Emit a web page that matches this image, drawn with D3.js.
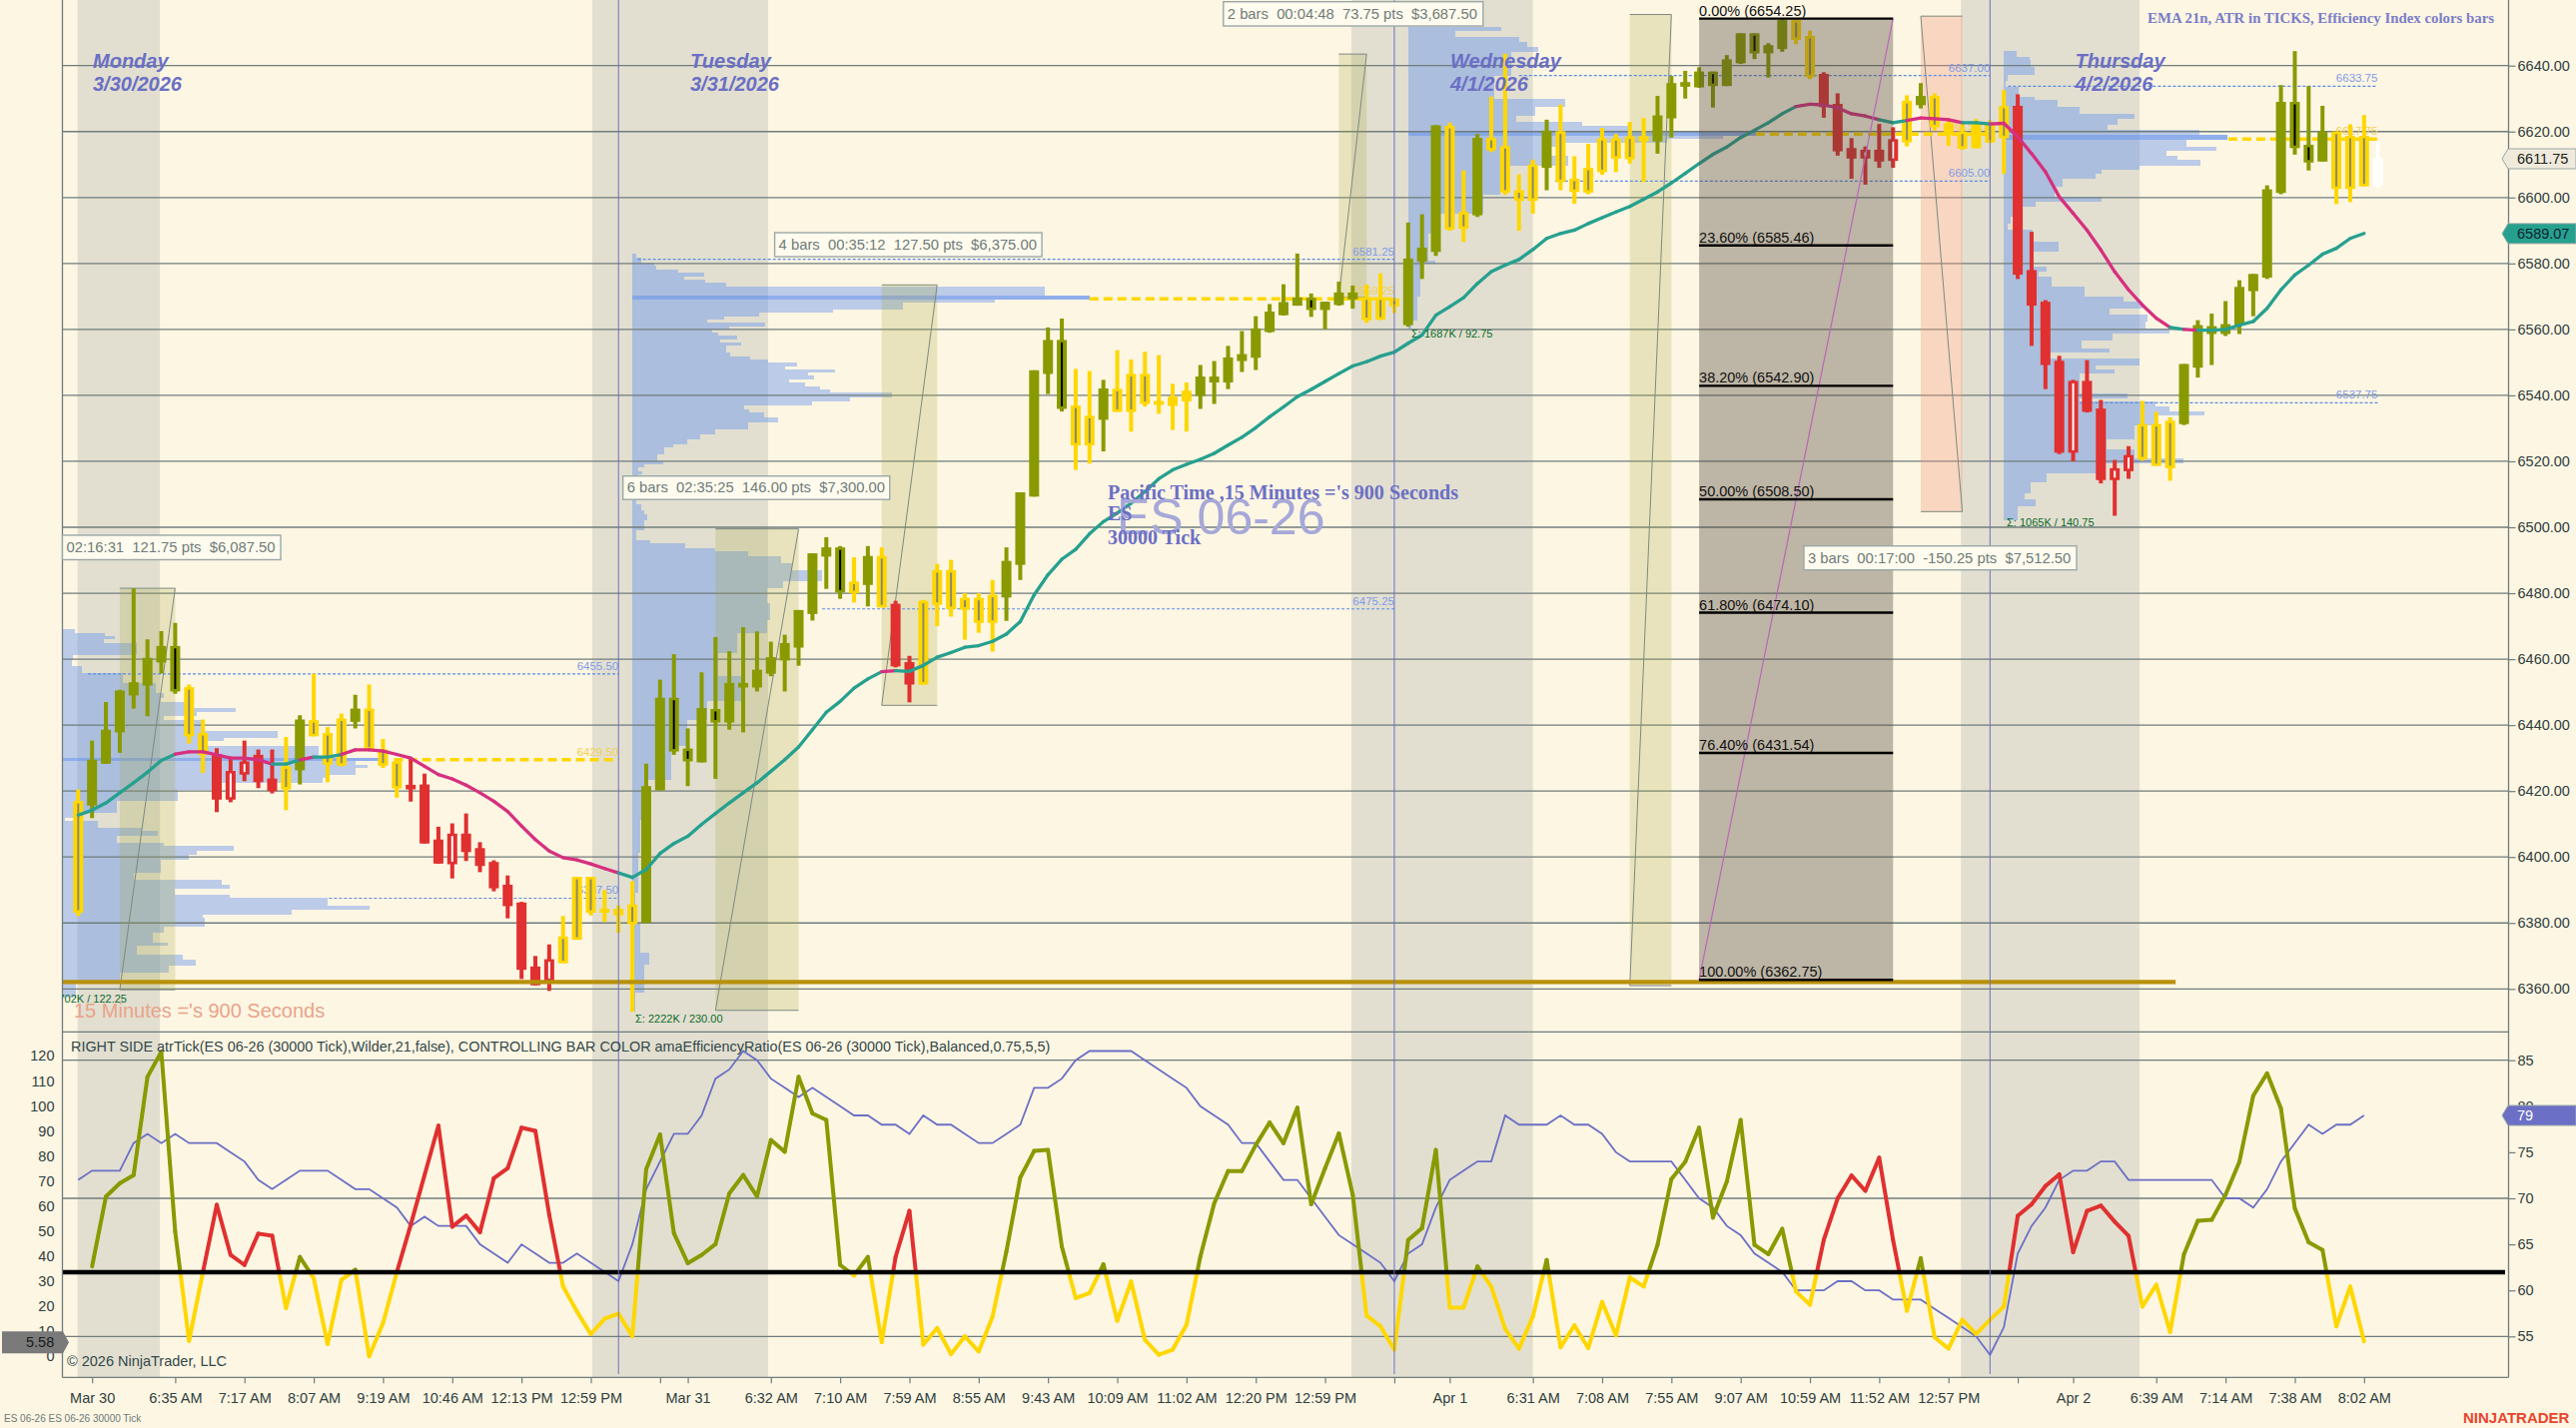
<!DOCTYPE html>
<html>
<head>
<meta charset="utf-8">
<title>ES 06-26 30000 Tick</title>
<script src="https://d3js.org/d3.v7.min.js"></script>
<style>
  html, body { margin: 0; padding: 0; background: #fdf6e3; }
  svg { display: block; }
  text { font-family: "Liberation Sans", Arial, sans-serif; white-space: pre; }
  .tick text { font-size: 14.5px; fill: #2f4040; }
  .serif { font-family: "Liberation Serif", serif; font-weight: bold; }
</style>
</head>
<body>
<svg id="chart" width="2579" height="1430"></svg>
<script>
// bars
var barOpen = [6417,6415.6,6428.3,6437.8,6449,6452,6459,6464,6451.5,6437.6,
  6417.4,6426.1,6429,6422.7,6420,6427.5,6426.3,6441.5,6437.6,6442,
  6441,6445,6432.6,6429,6420.5,6404.1,6398,6407.1,6401.5,6397.3,
  6390.5,6385.1,6365.8,6361.1,6369,6375.9,6394,6394,6384.3,6382.3,
  6385.6,6380,6420.2,6448.3,6432.9,6428.7,6444.9,6440.8,6451.4,6451.4,
  6455.6,6459.6,6463.5,6473.7,6491.1,6493.9,6483.5,6482.5,6491.3,6457.8,
  6452.3,6477.7,6487,6487,6478.6,6478.6,6479.5,6478.7,6488.6,6509.3,
  6546.5,6556.8,6536.9,6533.8,6532.6,6542,6546.5,6546.5,6537.1,6536.8,
  6538.2,6539.8,6543.9,6543.9,6550.4,6551.4,6559.2,6564.3,6567.2,6569.6,
  6565.9,6567.4,6569.1,6569.7,6569.7,6569.4,6561.3,6580.5,6583.5,6621.7,
  6595.6,6594.6,6618.1,6615.6,6602.2,6610,6609,6620.1,6605.7,6609,
  6618,6618,6618.5,6617,6617,6624,6633.6,6633.4,6638.2,6633.8,
  6640.7,6649.8,6643.7,6645,6653.8,6649,6627.4,6614,6611.8,6614.5,
  6610.9,6617.7,6629.3,6628,6630.8,6619,6620,6615,6622.5,6627.8,
  6576.6,6567.2,6549.2,6522.6,6544.4,6535,6514.3,6517.9,6521.9,6531.3,
  6531.3,6532.3,6531.3,6548.4,6558.6,6558.6,6561.3,6571.6,6575.7,6601.4,
  6629,6616,6610.9,6620,6618.7,6618.7,6603.4];
var barHigh = [6420.5,6435.3,6447,6450.7,6481.5,6466,6468.5,6471,6452.3,6441.7,
  6433,6430,6435.3,6432.6,6432.6,6436.4,6443,6455.6,6439.4,6443.5,
  6449.2,6452.3,6435.8,6429.3,6430,6425.3,6409.2,6410.2,6413.2,6404.5,
  6399,6394.4,6386.4,6370,6373.5,6382.1,6394,6394,6390,6385.3,
  6392.7,6428.3,6453.8,6461.5,6439,6456,6466.7,6462.4,6469.7,6468.4,
  6465.3,6467.4,6474.9,6492.1,6497,6494.3,6490.9,6494.3,6493.9,6477.7,
  6461,6478,6488.9,6490.1,6480,6480,6484,6493.9,6510.6,6547.6,
  6560.6,6563.3,6548,6547.4,6544.7,6553.7,6550.9,6553.2,6552.2,6543.5,
  6543.9,6549.2,6550.4,6555,6559.5,6564,6567.7,6573.7,6583,6570.9,
  6568.4,6574.5,6573.3,6573.6,6577,6569.6,6592.4,6594.9,6621.9,6622.7,
  6608.2,6619.3,6630.6,6643.6,6607,6611.5,6623.6,6628.2,6612.5,6616.3,
  6621.1,6619.3,6622.9,6624.1,6630.8,6636.9,6638.4,6639.5,6638.2,6643.2,
  6649.8,6649.8,6646.8,6654.25,6654,6650.6,6638,6631.6,6618,6615.5,
  6622.3,6621.3,6631,6634.7,6631.6,6623.4,6622.8,6623.8,6623.4,6632.6,
  6631.3,6589.6,6568.9,6552,6544.7,6550.7,6538.6,6520.4,6524.6,6538.3,
  6535,6533.3,6549.5,6562.8,6564.8,6568.6,6574.9,6576.8,6603.7,6634.1,
  6644.4,6633.8,6627.8,6620,6622.2,6625,6617.2];
var barLow = [6382.1,6411.8,6428.3,6431.6,6445,6442.7,6455.6,6449.5,6434.4,6425.5,
  6413.6,6416.6,6423,6420.9,6419.3,6414.2,6422,6436.6,6422.7,6427.5,
  6439,6432.6,6427,6418,6416.8,6404.1,6398,6393.5,6398.8,6395.4,
  6389.6,6381.4,6363,6361.1,6359.4,6367.8,6374.9,6382.3,6380.3,6377,
  6353.1,6380,6420.2,6431,6421.5,6428.7,6423.7,6438.6,6437.8,6450.2,
  6454.8,6450.2,6458,6471.7,6481.3,6478.3,6477.2,6476,6475.7,6457.5,
  6446.9,6452.3,6470,6472.9,6465.9,6468,6462.3,6471.6,6484,6509.3,
  6540.4,6535.1,6517.4,6519.3,6523,6535,6529,6536.6,6534.4,6529.5,
  6529,6535.9,6537.4,6541.9,6547.1,6547.7,6559,6564.2,6567.2,6563.8,
  6560,6567.2,6566.3,6562,6562.8,6565,6560.8,6575.3,6582.3,6589.9,
  6586.5,6594.1,6613.8,6600.8,6589.9,6595.1,6602.2,6602.2,6598.1,6601,
  6606.9,6607.7,6610.3,6604.7,6613.3,6618.2,6630,6633.3,6627.3,6633.8,
  6640.5,6642,6636.4,6644.2,6646.5,6635.9,6624.2,6612.7,6605.7,6603.9,
  6609,6609,6615.5,6627,6620.3,6615.7,6614.5,6614.8,6616.5,6607.2,
  6575.3,6555,6541.9,6522.2,6520,6534.8,6513.3,6503.5,6514.7,6520.2,
  6518.6,6514.1,6531,6545.4,6549.2,6558,6558.6,6564,6575.3,6601,
  6613,6608.2,6610.9,6598,6598.6,6603.4,6602.9];
var barClose = [6383.1,6429.5,6438.6,6450.5,6453,6460.4,6464,6450.2,6436.6,6431,
  6431.2,6417.4,6425,6431,6423.8,6420.5,6441.7,6436.6,6428,6427.7,
  6445,6432.6,6427.7,6420.8,6421.9,6422,6405.3,6397.8,6407.1,6402.7,
  6398.5,6391.6,6386.2,6366.8,6362.4,6367.8,6374.9,6383.1,6383.1,6384.3,
  6379.6,6421.5,6448.3,6432,6429,6445.2,6440.8,6452.8,6452.8,6456.8,
  6460.6,6464.9,6474.9,6492.1,6493.9,6480.2,6480,6491.3,6475.7,6476.8,
  6459.1,6452.3,6476.5,6475.2,6475,6471,6471,6489.8,6510.6,6547.6,
  6556.8,6535.9,6524.8,6524.8,6542.1,6535,6535,6537.4,6538.3,6539.6,
  6541.4,6545.7,6545.7,6551.5,6552.5,6560.3,6565.4,6568.3,6569.7,6565.9,
  6568.4,6571.2,6571.2,6562.8,6563,6566.9,6581.5,6584.8,6621.9,6590.3,
  6590.5,6618.1,6614.3,6601.5,6599,6599,6620.3,6604.7,6601.7,6601.5,
  6607.7,6611.8,6611.6,6618.6,6624.9,6634.7,6635,6638.2,6633.8,6641.9,
  6649.8,6643.7,6646.2,6653.8,6647.8,6636.5,6637.5,6628.4,6615,6611.8,
  6614.5,6611.1,6616.7,6630.8,6621.3,6622.5,6614.8,6622.5,6616.7,6618,
  6627.8,6578,6568.4,6550.5,6522.6,6544.4,6536,6514.3,6517,6520.6,
  6518.6,6517.9,6549.5,6561.3,6561,6561.6,6572.9,6576.8,6602.5,6629,
  6615,6610.6,6620,6602.6,6602.6,6603.4,6612];
// efficiency colour of each bar: G gold, O olive, R red, W last unfinished bar
var barColors = ("GOOOOOOOGG"+"RRRRRGOGGG"+"OGGGRRRRRR"+"RRRRRGGGGG"+"GOOOOOOOOO"+
  "OOOOOOGOGR"+"RGGGGGGOOO"+"OOGGOGGGGG"+"GOOOOOOOOO"+"OOOGGGOOOG"+
  "GOGGGGOGGG"+"GGGGOOOOOO"+"OOOOGGRRRR"+"RRGOGGGGGG"+"RRRRRRRRRG"+
  "GGOOOOOOOO"+"OOOGGGW").split("");

// EMA 21, one value per bar
var emaValues = [6412.7,6414.2,6416.4,6419.5,6422.5,6425.7,6429.3,6431.2,6431.9,6431.9,
  6431,6430,6430,6429.5,6428.2,6428.2,6429.5,6430.3,6430.3,6431.1,
  6432.5,6432.5,6432.1,6431.1,6430,6427.5,6425,6423.7,6421.8,6419.5,
  6416.9,6413.8,6409.4,6405.3,6401.8,6399.8,6399.1,6397.9,6396.5,6395.2,
  6393.8,6396.2,6401.1,6404.1,6406.3,6409.9,6413.2,6416.4,6419.5,6422.5,
  6426,6429.5,6433.4,6438.6,6443.9,6447.2,6451.2,6454,6456.2,6456.5,
  6456.3,6458.1,6460.6,6462,6463.6,6464.1,6465.4,6467.6,6471.4,6479.5,
  6485.6,6490.3,6493.3,6498,6501.7,6504.3,6507.3,6510.8,6514.7,6517.4,
  6519.1,6520.6,6522.4,6524.9,6527.3,6530.2,6533.5,6536.5,6539.6,6541.8,
  6544.2,6546.6,6548.9,6550.2,6551.9,6553.1,6555.8,6558.3,6564.3,6566.9,
  6569.6,6573.9,6577.5,6579.5,6581.2,6584.2,6587.6,6589.1,6590.1,6592.1,
  6593.9,6595.6,6597.3,6599.5,6601.7,6604.4,6607.3,6610.3,6613.1,6615.3,
  6618.2,6620.4,6622.7,6625.4,6627.6,6628.3,6628.1,6627.2,6625.4,6624.7,
  6623.6,6622.7,6623.4,6624.1,6623.9,6623.6,6622.7,6622.7,6622.3,6622.5,
  6618.4,6613.3,6607.8,6600.2,6595.2,6590.1,6584.1,6577.5,6572,6567.4,
  6563.4,6560.6,6560,6559.8,6559.8,6560,6561.3,6562.4,6566.4,6572,
  6576.5,6579.5,6582.8,6584.6,6587.6,6589.1];
var emaFalling = [[7,14],[16,17],[19,39],[58,59],[124,130],[132,136],[138,151],[152,153]];

// efficiency ratio (left scale), first bar has no value
var effValues = [null,35.9,63.8,69.1,72.4,111.6,121.6,49.8,6.2,33.6,
  60.5,40.5,36.5,49,48.2,19.3,39.7,31.2,4.9,30.6,
  34.6,0,13.3,33.6,52.5,72.4,92.1,51.8,56.2,49.6,
  71.1,75.1,91.3,90,56.5,27.9,17.9,8.9,15,17.1,
  8,74.8,88.6,49.2,37.2,40.5,44.8,65.1,72.4,63.8,
  86.4,81.7,111.6,97,94.4,36.5,32.3,39.7,5.7,39.7,
  58.1,4.7,11.3,0.9,8,2,15.9,41.9,71.4,82,
  82.4,43.9,23.3,25.3,36.8,14.2,29.9,6.6,0.7,2.7,
  12.6,39.9,61.1,74,74,84.4,93.4,85.1,99.3,60.7,
  75.1,89,64.5,16.3,12,2.7,46.5,51.2,82.4,19.5,
  19.5,35.9,27.9,11,3.1,15.9,38.5,3.6,12.4,3.3,
  21.7,8.4,31.5,27.9,44.5,70.8,77.7,91.3,55.4,69.8,
  94.4,44.5,40.8,50.9,25.9,20.6,46.5,63.1,72.2,66.1,
  79.3,46.5,18.2,39.2,7.6,3.1,14.6,8.9,14.6,19.9,
  56.1,60.7,68,72.7,41.6,58.1,60.2,53.8,48.1,19.9,
  28.6,9.7,40.8,54.1,54.5,64.5,77.7,104.1,113,99,
  59.1,45.6,42.5,12,27.9,6];
var effThreshold = 33.6;
var effRedRuns = [[10,14],[24,34],[59,60],[126,131],[140,148]];

// ATR in ticks (right scale)
var atrValues = [72,73,73,73,76,77,76,77,76,76,
  76,75,74,72,71,72,73,73,73,72,
  71,71,70,69,67,68,67,67,67,65,
  64,63,65,64,63,63,64,63,62,61,
  65,71,74,77,77,79,83,84,86,85,
  83,82,81,82,81,80,79,79,78,78,
  77,79,78,78,77,76,76,77,78,82,
  82,83,85,86,86,86,86,85,84,83,
  82,80,79,78,76,76,74,72,72,70,
  68,66,65,64,63,61,64,65,69,72,
  73,74,74,79,78,78,78,79,78,78,
  77,75,74,74,74,74,72,70,69,67,
  66,64,63,62,60,60,60,61,61,60,
  60,59,59,59,58,57,56,55,53,56,
  64,67,69,72,73,73,74,74,72,72,
  72,72,72,72,72,70,70,69,71,74,
  76,78,77,78,78,79];

// axes
var priceTicks = d3.range(6360, 6641, 20);
var effTicks = d3.range(0, 121, 10);
var atrTicks = [55,60,65,70,75,80,85];
var timeTickBars = [1,7,12,17,22,27,32,37,42,44,50,55,60,65,70,75,80,85,90,95,99,105,110,115,120,125,130,135,140,144,150,155,160,165];
var timeTickLabels = ["Mar 30","6:35 AM","7:17 AM","8:07 AM","9:19 AM","10:46 AM","12:13 PM","12:59 PM","","Mar 31","6:32 AM","7:10 AM","7:59 AM","8:55 AM","9:43 AM","10:09 AM","11:02 AM","12:20 PM","12:59 PM","","Apr 1","6:31 AM","7:08 AM","7:55 AM","9:07 AM","10:59 AM","11:52 AM","12:57 PM","","Apr 2","6:39 AM","7:14 AM","7:38 AM","8:02 AM"];

// session bands and day lines, in bars
var bandFrom = [-0.05,37.1,91.9,135.9];
var bandTo = [5.9,49.8,105,148.8];
var dayLines = [39,95,138];

// volume profiles: top price of each row, then its volume
var profileStart = [-1.14,40,96,139];
var profilePrices = [
  [6469.2,6467.9,6466.9,6466.1,6464.9,6461.3,6459.8,6457.8,6455.8,6452.8,6449.7,6448.2,6447,6445.2,6444,6442.7,6441.7,6438.1,6436.1,6435.1,6433.6,6430.1,6429,6428,6427,6425,6424,6422.5,6420.3,6416.9,6413.4,6411.9,6410.9,6408.9,6407.9,6406.3,6404.3,6403.3,6402,6400.8,6399.1,6395.2,6393.2,6391.7,6390.4,6388.7,6387.7,6385.1,6384.1,6382.6,6381.6,6378.9,6377,6374.1,6373,6370.5,6369,6367.2,6365,6362.4,6357.4],
  [6583,6581.7,6580.2,6579.2,6578.1,6577.1,6576.1,6575.1,6574.1,6573.1,6570.3,6569.1,6568.1,6566,6565.2,6564,6563,6562,6561,6560,6559,6558,6557,6556,6555,6552.9,6551.9,6550.9,6549.9,6548.9,6547.9,6546.9,6545.9,6544.9,6543.8,6542.8,6541.8,6540.8,6539.3,6538.3,6537,6535.8,6534.8,6533.2,6531.9,6529.7,6528.2,6526.7,6525.2,6524.2,6522.1,6520.1,6519.1,6518.1,6517,6516,6508.5,6507,6505,6503.9,6502.2,6499.2,6496.1,6495.1,6493.6,6492.6,6491.1,6489.1,6487,6483.5,6481.5,6477,6471.9,6467.9,6461.8,6454.8,6447.2,6441.7,6433.6,6423.5,6411.4,6401.3,6389.2,6380.1,6371,6367.5,6359,6353.1],
  [6651.8,6650.6,6648.6,6647.1,6645.6,6644.1,6641,6637,6629.9,6627.4,6624.9,6622.9,6621.6,6620.3,6618.8,6617.8,6616.5,6615.3,6612.8,6609.7,6607.2,6603.2,6600.7,6595.1,6589,6581,6580,6576,6569.9,6562.8,6560],
  [6644.6,6642.6,6641.6,6639.6,6637.3,6635.5,6633.5,6630.5,6629.5,6627.4,6625.4,6623.9,6621.9,6620.4,6618.9,6617.4,6615.3,6614.3,6612.8,6611.5,6609.5,6608.3,6607.3,6605.8,6603.2,6600.2,6598.7,6597.2,6594.1,6592.1,6590.1,6589.6,6586.6,6583.6,6579,6577.5,6576,6573,6570,6568.4,6566.4,6564.4,6562.4,6560.3,6558.8,6556.6,6554.3,6553,6551.3,6549.2,6547.7,6546.5,6540.6,6539.1,6538.1,6536.6,6535.1,6534,6531,6526.5,6523.5,6521,6519.5,6516.5,6513.5,6510.4,6508.4,6506.4,6502]
];
var profileVolumes = [
  [13,43,53,42,75,11,10,20,61,94,102,99,124,174,135,102,140,216,162,146,257,319,294,306,294,267,261,157,116,55,20,3,36,80,96,55,102,172,135,127,99,72,160,168,113,168,266,308,230,141,143,102,91,106,75,121,134,107,58,14],
  [4,9,22,24,46,72,52,73,94,413,458,363,271,201,127,92,75,133,97,80,86,105,88,109,94,98,118,136,165,153,203,176,182,157,173,188,198,260,218,180,112,117,132,146,116,83,68,55,41,32,25,31,12,6,10,6,4,9,12,15,12,4,18,53,83,116,149,160,190,151,135,138,135,105,86,113,75,55,39,12,8,6,3,8,17,12,3],
  [93,47,111,119,130,103,103,86,157,127,108,174,220,348,315,259,152,138,160,97,94,92,75,31,20,27,15,12,9,3],
  [13,26,27,31,4,2,15,31,54,76,131,114,104,196,224,183,213,163,174,197,136,98,92,59,51,98,32,15,7,4,29,26,55,26,43,35,48,81,120,139,106,144,142,166,109,78,106,43,136,92,111,76,124,76,152,166,201,152,131,103,131,180,98,43,27,21,32,14]
];

// naked levels drawn from each profile: price, first bar, last bar
var vaPrices = [6455.5,6387.5,6581.25,6475.25,6637,6605,6633.75,6537.75];
var vaFromBar = [0.7,18.1,40.4,53.7,104,106.6,139.3,144.5];
var vaToBar = [39,39,95,95,138,138,165.98,165.98];
var pocPrices = [6429.5,6569.25,6619.25,6617.75];
var pocFromBar = [22.8,73,121.1,155.2];
var pocToBar = [39,95,138,165.98];

// fibonacci retracement
var fibPercents = ["0.00%","23.60%","38.20%","50.00%","61.80%","76.40%","100.00%"];
var fibPrices = [6654.25,6585.46,6542.90,6508.50,6474.10,6431.54,6362.75];

// bar-measure rectangles: from/to bar, low/high price
var measFrom = [3,46,58,91,112,133];
var measTo = [7,52,62,93,115,136];
var measLow = [6359.75,6353.5,6446,6569.75,6361,6504.75];
var measHigh = [6481.5,6499.5,6573.5,6643.5,6655.5,6655];

// scales
var x = d3.scaleLinear().domain([0,166]).range([78.3,2380.7]);
var y = d3.scaleLinear().domain([6360,6640]).range([990.3,65.7]);
var effY = d3.scaleLinear().domain([0,120]).range([1358.3,1057.3]);
var atrY = d3.scaleLinear().domain([55,85]).range([1338.3,1061.7]);
var volX = d3.scaleLinear().domain([0,500]).range([0,500]);

var left = 62.5, right = 2511.5, sep = 1033.3, bottom = 1379.3;
var gridColor = "#6f7d7d", blue = "#6b6fc5";
var colorOf = { G: "#ffd700", O: "#899a00", R: "#e03030", W: "#ffffff" };
var coreOf = { G: "#8c8a6a", O: "#000000", R: "#ffffff", W: "#ffffff" };

var svg = d3.select("#chart");
svg.append("rect").attr("width",2579).attr("height",1430).attr("fill","#fdf6e3");

var defs = svg.append("defs");
defs.append("clipPath").attr("id","panel").append("rect")
  .attr("x",left).attr("y",0).attr("width",right-left).attr("height",sep);

// session bands
svg.append("g").selectAll("rect").data(bandFrom).enter().append("rect")
  .attr("x", function(d){ return x(d); })
  .attr("width", function(d,i){ return x(bandTo[i]) - x(d); })
  .attr("y",0).attr("height",bottom).attr("fill","#e2dfd0");

// volume profiles
var profileG = svg.append("g").attr("clip-path","url(#panel)");
profilePrices.forEach(function(prices,k){
  var vols = profileVolumes[k], top = d3.max(vols);
  profileG.append("g").selectAll("rect").data(vols).enter().append("rect")
    .attr("x", x(profileStart[k]))
    .attr("y", function(d,i){ return y(prices[i]); })
    .attr("width", function(d){ return volX(d); })
    .attr("height", function(d,i){ return y(prices[i+1]) - y(prices[i]); })
    .attr("fill", function(d){ return d === top ? "rgba(90,140,240,.68)" : "rgba(90,140,240,.4)"; })
    .attr("shape-rendering","crispEdges");
});

// price grid
svg.append("g").selectAll("line").data(priceTicks).enter().append("line")
  .attr("x1",left).attr("x2",right)
  .attr("y1",function(d){ return y(d); }).attr("y2",function(d){ return y(d); })
  .attr("stroke",gridColor).attr("stroke-width",1.3);
// indicator grid
svg.append("g").selectAll("line").data([85,70,55]).enter().append("line")
  .attr("x1",left).attr("x2",right)
  .attr("y1",function(d){ return atrY(d); }).attr("y2",function(d){ return atrY(d); })
  .attr("stroke",gridColor).attr("stroke-width",1.3);

// bar-measure rectangles
measFrom.forEach(function(f,i){
  var g = svg.append("g"), fill = i === 5 ? "rgba(240,150,120,.33)" : "rgba(165,165,60,.23)";
  var x0 = x(f), x1 = x(measTo[i]), yTop = y(measHigh[i]), yBot = y(measLow[i]);
  g.append("rect").attr("x",x0).attr("y",yTop).attr("width",x1-x0).attr("height",yBot-yTop).attr("fill",fill);
  [[x0,yTop,x1,yTop],[x0,yBot,x1,yBot],
   i === 3 ? [x1,yTop,x0,yBot] : i === 5 ? [x0,yTop,x1,yBot] : [x0,yBot,x1,yTop]].forEach(function(s){
    g.append("line").attr("x1",s[0]).attr("y1",s[1]).attr("x2",s[2]).attr("y2",s[3])
      .attr("stroke","#7d8a80").attr("stroke-width",1);
  });
});

// naked value area levels
var levelG = svg.append("g");
levelG.selectAll("line.va").data(vaPrices).enter().append("line").attr("class","va")
  .attr("x1",function(d,i){ return x(vaFromBar[i]); }).attr("x2",function(d,i){ return x(vaToBar[i]); })
  .attr("y1",function(d){ return y(d); }).attr("y2",function(d){ return y(d); })
  .attr("stroke","#5b8ce6").attr("stroke-width",1.2).attr("stroke-dasharray","3 2");
levelG.selectAll("text.va").data(vaPrices).enter().append("text").attr("class","va")
  .attr("x",function(d,i){ return x(vaToBar[i]); }).attr("y",function(d){ return y(d) - 4; })
  .attr("text-anchor","end").attr("font-size",11.5).attr("fill","#7f9be8")
  .text(function(d){ return d.toFixed(2); });
levelG.selectAll("line.poc").data(pocPrices).enter().append("line").attr("class","poc")
  .attr("x1",function(d,i){ return x(pocFromBar[i]); }).attr("x2",function(d,i){ return x(pocToBar[i]); })
  .attr("y1",function(d){ return y(d); }).attr("y2",function(d){ return y(d); })
  .attr("stroke","#ffd700").attr("stroke-width",3.5).attr("stroke-dasharray","9 5");
levelG.selectAll("text.poc").data(pocPrices).enter().append("text").attr("class","poc")
  .attr("x",function(d,i){ return x(pocToBar[i]); }).attr("y",function(d){ return y(d) - 4; })
  .attr("text-anchor","end").attr("font-size",11.5).attr("fill","#f5cf50")
  .text(function(d){ return d.toFixed(2); });

// candles
var barG = svg.append("g").selectAll("g").data(barOpen).enter().append("g");
barG.append("rect") // wick
  .attr("x",function(d,i){ return x(i) - 2; }).attr("width",4)
  .attr("y",function(d,i){ return y(barHigh[i]); })
  .attr("height",function(d,i){ return y(barLow[i]) - y(barHigh[i]); })
  .attr("fill",function(d,i){ return colorOf[barColors[i]]; });
barG.append("rect") // body
  .attr("x",function(d,i){ return x(i) - 5; }).attr("width",10)
  .attr("y",function(d,i){ return y(Math.max(d,barClose[i])); })
  .attr("height",function(d,i){ return Math.max(2, Math.abs(y(d) - y(barClose[i]))); })
  .attr("fill",function(d,i){ return colorOf[barColors[i]]; });
// down bars are hollow
barG.each(function(d,i){
  if (d <= barClose[i]) return;
  var t = y(d) + 2.5, b = y(barClose[i]) - 2.5;
  if (b <= t) return;
  d3.select(this).append("rect").attr("x",x(i) - 1).attr("width",2)
    .attr("y",t).attr("height",b - t).attr("fill",coreOf[barColors[i]]);
});

// gold support line
svg.append("line").attr("x1",left).attr("x2",x(151.4))
  .attr("y1",y(6362.1)).attr("y2",y(6362.1)).attr("stroke","#b8900a").attr("stroke-width",4.4);

// EMA
function inRuns(runs,i){ return runs.some(function(r){ return i >= r[0] && i < r[1]; }); }
svg.append("g").selectAll("line").data(d3.range(emaValues.length-1)).enter().append("line")
  .attr("x1",function(i){ return x(i); }).attr("x2",function(i){ return x(i+1); })
  .attr("y1",function(i){ return y(emaValues[i]); }).attr("y2",function(i){ return y(emaValues[i+1]); })
  .attr("stroke",function(i){ return inRuns(emaFalling,i) ? "#d6307f" : "#26a08f"; })
  .attr("stroke-width",3.3).attr("stroke-linecap","round");

// fibonacci overlay sits over the bars
svg.append("rect").attr("x",x(117)).attr("y",y(fibPrices[0]))
  .attr("width",x(131)-x(117)).attr("height",y(fibPrices[6])-y(fibPrices[0]))
  .attr("fill","rgba(80,70,60,.37)");
svg.append("line").attr("x1",x(117)).attr("x2",x(131))
  .attr("y1",y(fibPrices[6])).attr("y2",y(fibPrices[0]))
  .attr("stroke","#b967b9").attr("stroke-width",1.2);
var fibG = svg.append("g");
fibG.selectAll("line").data(fibPrices).enter().append("line")
  .attr("x1",x(117)).attr("x2",x(131))
  .attr("y1",function(d){ return y(d); }).attr("y2",function(d){ return y(d); })
  .attr("stroke","#000").attr("stroke-width",2.4);
fibG.selectAll("text").data(fibPrices).enter().append("text")
  .attr("x",x(117)).attr("y",function(d){ return y(d) - 3; })
  .attr("font-size",14.5).attr("fill","#111")
  .text(function(d,i){ return fibPercents[i] + " (" + d.toFixed(2) + ")"; });

// ATR line
svg.append("path").datum(atrValues)
  .attr("d",d3.line().x(function(d,i){ return x(i); }).y(function(d){ return atrY(d); }))
  .attr("fill","none").attr("stroke",blue).attr("stroke-width",1.8);

// efficiency line, split where it crosses the threshold
var effSegs = [];
effValues.forEach(function(v,i){
  var w = effValues[i+1];
  if (v === null || w === undefined) return;
  var color = inRuns(effRedRuns.map(function(r){ return [r[0]-1,r[1]+1]; }),i) ? colorOf.R : colorOf.O;
  var push = function(a,va,b,vb){
    effSegs.push({a:a,va:va,b:b,vb:vb,c:(va < effThreshold || vb < effThreshold) ? colorOf.G : color});
  };
  if ((v - effThreshold) * (w - effThreshold) < 0) {
    var t = i + (effThreshold - v) / (w - v);
    push(i,v,t,effThreshold); push(t,effThreshold,i+1,w);
  } else push(i,v,i+1,w);
});
svg.append("g").selectAll("line").data(effSegs).enter().append("line")
  .attr("x1",function(d){ return x(d.a); }).attr("x2",function(d){ return x(d.b); })
  .attr("y1",function(d){ return effY(d.va); }).attr("y2",function(d){ return effY(d.vb); })
  .attr("stroke",function(d){ return d.c; }).attr("stroke-width",4).attr("stroke-linecap","round");

// threshold line
svg.append("line").attr("x1",left).attr("x2",2508)
  .attr("y1",effY(effThreshold)).attr("y2",effY(effThreshold))
  .attr("stroke","#000").attr("stroke-width",4.4);

// day lines
svg.append("g").selectAll("line").data(dayLines).enter().append("line")
  .attr("x1",function(d){ return x(d); }).attr("x2",function(d){ return x(d); })
  .attr("y1",0).attr("y2",1376).attr("stroke",blue).attr("stroke-width",1);

// frame
[[left,0,left,bottom],[right,0,right,bottom],[left,sep,right,sep],[left,bottom,right,bottom]].forEach(function(s){
  svg.append("line").attr("x1",s[0]).attr("y1",s[1]).attr("x2",s[2]).attr("y2",s[3])
    .attr("stroke",gridColor).attr("stroke-width",1.3);
});

// axes
function styleAxis(g){
  g.select(".domain").remove();
  g.selectAll(".tick line").attr("stroke",gridColor).attr("stroke-width",1.2);
}
svg.append("g").attr("transform","translate("+right+",0)")
  .call(d3.axisRight(y).tickValues(priceTicks).tickSize(7).tickPadding(2).tickFormat(function(d){ return d.toFixed(2); }))
  .call(styleAxis);
svg.append("g").attr("transform","translate("+right+",0)")
  .call(d3.axisRight(atrY).tickValues(atrTicks).tickSize(7).tickPadding(2).tickFormat(d3.format("d")))
  .call(styleAxis);
svg.append("g").attr("transform","translate("+left+",0)")
  .call(d3.axisLeft(effY).tickValues(effTicks).tickSize(0).tickPadding(8).tickFormat(d3.format("d")))
  .call(styleAxis);
svg.append("g").attr("transform","translate(0,"+bottom+")")
  .call(d3.axisBottom(x).tickValues(timeTickBars).tickSize(6).tickPadding(9)
    .tickFormat(function(d,i){ return timeTickLabels[i]; }))
  .call(styleAxis);

// text helper
function label(s,px,py,size,fill,extra){
  var t = svg.append("text").attr("x",px).attr("y",py).attr("font-size",size).attr("fill",fill).text(s);
  if (extra) extra(t);
  return t;
}
// day names
[["Monday","3/30/2026",93],["Tuesday","3/31/2026",691],["Wednesday","4/1/2026",1452],["Thursday","4/2/2026",2077.5]].forEach(function(d){
  [d[0],d[1]].forEach(function(s,j){
    label(s,d[2],j ? 91 : 68,20,blue,function(t){ t.attr("font-weight","bold").attr("font-style","italic"); });
  });
});
// watermark and notes
label("ES 06-26",1118,535,50,"#a6a8d8");
function serifFit(w){ return function(t){ t.attr("class","serif"); if (w) t.attr("textLength",w).attr("lengthAdjust","spacingAndGlyphs"); }; }
label("Pacific Time ,15 Minutes ='s 900 Seconds",1109,500,20,blue,serifFit(351));
label("ES",1109,521,20,blue,serifFit());
label("30000 Tick",1109,545,20,blue,serifFit());
label("EMA 21n, ATR in TICKS, Efficiency Index colors bars",2150,23,15.5,"#7a7ec8",serifFit(347));
label("15 Minutes ='s 900 Seconds",74,1019,20,"#e8a48a");
label("RIGHT SIDE atrTick(ES 06-26 (30000 Tick),Wilder,21,false), CONTROLLING BAR COLOR amaEfficiencyRatio(ES 06-26 (30000 Tick),Balanced,0.75,5,5)",71,1053,14.4,"#33484a");
label("\u00a9 2026 NinjaTrader, LLC",67,1368,14.5,"#33484a");
label("ES 06-26 ES 06-26 30000 Tick",4,1424,10,"#6a7a7a");
label("NINJATRADER",2466,1425,15,"#e8452c",function(t){ t.attr("font-weight","bold"); });

// volume totals
var sumG = svg.append("g").attr("clip-path","url(#panel)");
[["\u03a3: 1702K / 122.25",127,1004,"end"],["\u03a3: 2222K / 230.00",636,1024,"start"],["\u03a3: 1687K / 92.75",1413,338,"start"],["\u03a3: 1065K / 140.75",2009,527,"start"]].forEach(function(d){
  sumG.append("text").attr("x",d[1]).attr("y",d[2]).attr("text-anchor",d[3])
    .attr("font-size",11).attr("fill","#0a6a2a").text(d[0]);
});

// measure boxes
function statBox(s,bx,by,bw,bh){
  svg.append("rect").attr("x",bx).attr("y",by).attr("width",bw).attr("height",bh)
    .attr("fill","#fffbee").attr("stroke","#9aa8a8").attr("stroke-width",1.4);
  label(s,bx+4,by+bh/2+5,14.8,"#6e7b7b");
}
statBox("02:16:31  121.75 pts  $6,087.50",62.5,536,218.5,24.5);
statBox("6 bars  02:35:25  146.00 pts  $7,300.00",623.7,476.7,267,23.5);
statBox("4 bars  00:35:12  127.50 pts  $6,375.00",775.6,233,267.5,24);
statBox("2 bars  00:04:48  73.75 pts  $3,687.50",1224.8,1.7,260,24.3);
statBox("3 bars  00:17:00  -150.25 pts  $7,512.50",1806,546.7,273,24);

// price tags on the right
function tag(yc,fill,txt,tc){
  svg.append("path")
    .attr("d","M2505,"+yc+"L2511,"+(yc-10)+"L2579,"+(yc-10)+"L2579,"+(yc+10)+"L2511,"+(yc+10)+"Z")
    .attr("fill",fill).attr("stroke","#9aa8a8").attr("stroke-width",1);
  label(txt,2520,yc+5,14.5,tc);
}
tag(y(6611.75),"#efeadb","6611.75","#222");
tag(y(6589.07),"#26a08f","6589.07","#123");
tag(atrY(79),blue,"79","#fff");

// left value tag
var yTag = effY(5.58);
svg.append("path").attr("d","M2,"+(yTag-11)+"L63,"+(yTag-11)+"L69,"+yTag+"L63,"+(yTag+11)+"L2,"+(yTag+11)+"Z")
  .attr("fill","#7a7a7a");
label("5.58",26,yTag+5,14.5,"#1a1a1a");
</script>
</body>
</html>
